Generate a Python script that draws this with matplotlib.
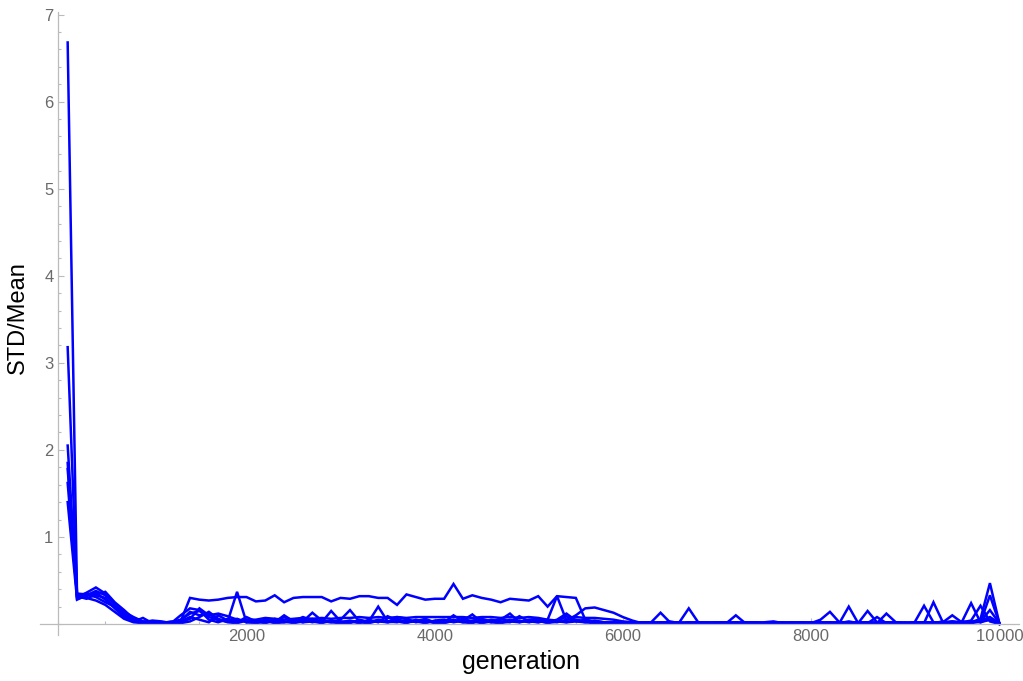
import numpy as np
import matplotlib.pyplot as plt
from matplotlib.ticker import MultipleLocator, FixedLocator, FixedFormatter

plt.rcParams['font.family'] = ['Liberation Sans', 'DejaVu Sans']

# generations sampled every 100
generation = np.arange(100, 10001, 100)

# STD/Mean for each run, 10 values per row (1000 generations per row)
run_a = [6.68, 0.30, 0.36, 0.42, 0.35, 0.24, 0.12, 0.05, 0.02, 0.01,
         0.02, 0.01, 0.03, 0.30, 0.28, 0.27, 0.28, 0.30, 0.31, 0.31,
         0.26, 0.27, 0.33, 0.25, 0.30, 0.31, 0.31, 0.31, 0.26, 0.30,
         0.29, 0.32, 0.32, 0.30, 0.30, 0.22, 0.34, 0.31, 0.28, 0.29,
         0.29, 0.46, 0.29, 0.33, 0.30, 0.28, 0.25, 0.29, 0.28, 0.27,
         0.32, 0.20, 0.32, 0.31, 0.30, 0.05, 0.02, 0.01, 0.02, 0.01,
         0.01, 0.02, 0.01, 0.01, 0.02, 0.01, 0.02, 0.01, 0.01, 0.02,
         0.01, 0.02, 0.01, 0.01, 0.02, 0.03, 0.01, 0.02, 0.01, 0.01,
         0.02, 0.01, 0.02, 0.01, 0.02, 0.01, 0.02, 0.01, 0.02, 0.01,
         0.01, 0.02, 0.01, 0.03, 0.01, 0.02, 0.04, 0.21, 0.03, 0.00]
run_b = [3.18, 0.33, 0.35, 0.33, 0.30, 0.20, 0.10, 0.04, 0.03, 0.02,
         0.01, 0.02, 0.05, 0.12, 0.15, 0.08, 0.05, 0.03, 0.37, 0.02,
         0.02, 0.05, 0.03, 0.08, 0.04, 0.02, 0.06, 0.03, 0.02, 0.05,
         0.16, 0.03, 0.02, 0.05, 0.03, 0.06, 0.02, 0.04, 0.03, 0.02,
         0.03, 0.05, 0.02, 0.04, 0.06, 0.03, 0.02, 0.05, 0.03, 0.04,
         0.02, 0.04, 0.03, 0.09, 0.03, 0.02, 0.04, 0.02, 0.01, 0.02,
         0.02, 0.01, 0.02, 0.13, 0.02, 0.01, 0.01, 0.02, 0.01, 0.01,
         0.01, 0.01, 0.02, 0.01, 0.01, 0.02, 0.01, 0.01, 0.02, 0.01,
         0.05, 0.14, 0.02, 0.01, 0.02, 0.01, 0.01, 0.02, 0.01, 0.01,
         0.01, 0.02, 0.01, 0.02, 0.03, 0.01, 0.02, 0.06, 0.47, 0.01]
run_c = [2.05, 0.29, 0.32, 0.36, 0.28, 0.18, 0.08, 0.03, 0.02, 0.04,
         0.03, 0.01, 0.10, 0.18, 0.16, 0.05, 0.02, 0.06, 0.03, 0.05,
         0.05, 0.07, 0.06, 0.05, 0.06, 0.07, 0.06, 0.07, 0.06, 0.07,
         0.07, 0.08, 0.07, 0.08, 0.07, 0.08, 0.07, 0.08, 0.08, 0.08,
         0.08, 0.08, 0.08, 0.07, 0.08, 0.08, 0.07, 0.08, 0.07, 0.08,
         0.07, 0.05, 0.32, 0.04, 0.10, 0.18, 0.19, 0.16, 0.13, 0.08,
         0.04, 0.01, 0.02, 0.01, 0.01, 0.02, 0.01, 0.02, 0.01, 0.02,
         0.01, 0.02, 0.01, 0.02, 0.01, 0.01, 0.02, 0.01, 0.01, 0.02,
         0.01, 0.02, 0.01, 0.03, 0.01, 0.02, 0.01, 0.01, 0.02, 0.01,
         0.02, 0.21, 0.02, 0.01, 0.02, 0.01, 0.02, 0.03, 0.16, 0.01]
run_d = [1.85, 0.31, 0.30, 0.27, 0.22, 0.14, 0.06, 0.02, 0.01, 0.03,
         0.01, 0.02, 0.04, 0.14, 0.10, 0.12, 0.04, 0.03, 0.02, 0.08,
         0.03, 0.01, 0.04, 0.02, 0.03, 0.08, 0.04, 0.02, 0.15, 0.03,
         0.02, 0.04, 0.03, 0.20, 0.03, 0.02, 0.05, 0.03, 0.06, 0.02,
         0.02, 0.10, 0.03, 0.02, 0.04, 0.02, 0.06, 0.03, 0.02, 0.05,
         0.06, 0.03, 0.02, 0.05, 0.08, 0.07, 0.07, 0.06, 0.05, 0.03,
         0.02, 0.01, 0.01, 0.02, 0.01, 0.02, 0.18, 0.02, 0.01, 0.01,
         0.02, 0.01, 0.01, 0.02, 0.01, 0.02, 0.01, 0.02, 0.01, 0.01,
         0.01, 0.01, 0.02, 0.01, 0.01, 0.15, 0.02, 0.01, 0.01, 0.02,
         0.01, 0.01, 0.02, 0.01, 0.03, 0.02, 0.24, 0.02, 0.05, 0.00]
run_e = [1.78, 0.35, 0.34, 0.31, 0.25, 0.20, 0.14, 0.08, 0.03, 0.02,
         0.02, 0.01, 0.02, 0.06, 0.18, 0.10, 0.12, 0.09, 0.05, 0.03,
         0.01, 0.03, 0.02, 0.10, 0.03, 0.05, 0.02, 0.04, 0.03, 0.02,
         0.03, 0.01, 0.05, 0.02, 0.09, 0.04, 0.02, 0.03, 0.01, 0.04,
         0.05, 0.02, 0.04, 0.11, 0.02, 0.05, 0.03, 0.02, 0.09, 0.03,
         0.02, 0.05, 0.04, 0.02, 0.03, 0.05, 0.03, 0.02, 0.01, 0.01,
         0.01, 0.02, 0.01, 0.02, 0.02, 0.01, 0.02, 0.01, 0.02, 0.01,
         0.01, 0.10, 0.01, 0.02, 0.01, 0.01, 0.02, 0.01, 0.02, 0.01,
         0.02, 0.01, 0.01, 0.02, 0.01, 0.02, 0.01, 0.12, 0.02, 0.01,
         0.02, 0.01, 0.25, 0.02, 0.01, 0.03, 0.02, 0.04, 0.08, 0.01]
run_f = [1.40, 0.28, 0.33, 0.38, 0.33, 0.23, 0.09, 0.03, 0.07, 0.01,
         0.01, 0.03, 0.01, 0.03, 0.08, 0.14, 0.06, 0.02, 0.01, 0.04,
         0.04, 0.02, 0.06, 0.03, 0.01, 0.03, 0.13, 0.04, 0.02, 0.01,
         0.01, 0.05, 0.02, 0.03, 0.02, 0.08, 0.06, 0.02, 0.04, 0.01,
         0.02, 0.03, 0.06, 0.03, 0.01, 0.03, 0.05, 0.12, 0.02, 0.04,
         0.03, 0.02, 0.05, 0.12, 0.04, 0.02, 0.01, 0.02, 0.01, 0.02,
         0.01, 0.01, 0.02, 0.01, 0.03, 0.01, 0.01, 0.02, 0.01, 0.02,
         0.02, 0.01, 0.01, 0.02, 0.01, 0.02, 0.01, 0.01, 0.02, 0.01,
         0.01, 0.02, 0.01, 0.20, 0.01, 0.02, 0.01, 0.02, 0.01, 0.01,
         0.02, 0.01, 0.02, 0.01, 0.02, 0.01, 0.03, 0.02, 0.33, 0.01]
run_g = [1.62, 0.32, 0.29, 0.34, 0.37, 0.25, 0.16, 0.06, 0.02, 0.01,
         0.02, 0.01, 0.03, 0.08, 0.05, 0.02, 0.10, 0.04, 0.06, 0.02,
         0.02, 0.04, 0.01, 0.02, 0.05, 0.02, 0.03, 0.01, 0.04, 0.02,
         0.04, 0.02, 0.01, 0.04, 0.02, 0.03, 0.01, 0.05, 0.02, 0.03,
         0.01, 0.04, 0.02, 0.01, 0.05, 0.02, 0.01, 0.03, 0.04, 0.02,
         0.04, 0.01, 0.03, 0.02, 0.05, 0.03, 0.02, 0.01, 0.02, 0.01,
         0.01, 0.02, 0.01, 0.01, 0.02, 0.01, 0.01, 0.01, 0.02, 0.01,
         0.02, 0.01, 0.02, 0.01, 0.01, 0.02, 0.01, 0.02, 0.01, 0.02,
         0.01, 0.02, 0.01, 0.01, 0.02, 0.01, 0.08, 0.01, 0.02, 0.01,
         0.01, 0.02, 0.01, 0.02, 0.10, 0.02, 0.01, 0.03, 0.05, 0.00]
runs = [run_a, run_b, run_c, run_d, run_e, run_f, run_g]

x_ticks = [2000, 4000, 6000, 8000, 10000]
x_labels = ['2000', '4000', '6000', '8000', '10\u200a000']
y_ticks = [1, 2, 3, 4, 5, 6, 7]

fig = plt.figure(figsize=(10.23, 6.81), dpi=100)
ax = fig.add_axes([40/1023, 46/681, 979/1023, 623/681])

for r in runs:
    ax.plot(generation, r, color='#0000ff', lw=1.8, solid_joinstyle='miter')

ax.set_xlim(-194, 10209)
ax.set_ylim(-0.126, 7.03)

# Mathematica style axes crossing at origin
ax.spines['left'].set_position(('data', 0))
ax.spines['bottom'].set_position(('data', 0))
ax.spines['top'].set_visible(False)
ax.spines['right'].set_visible(False)
for s in ['left', 'bottom']:
    ax.spines[s].set_color('#bbbbbb')
    ax.spines[s].set_linewidth(0.9)

ax.xaxis.set_major_locator(FixedLocator(x_ticks))
ax.xaxis.set_major_formatter(FixedFormatter(x_labels))
ax.xaxis.set_minor_locator(MultipleLocator(500))
ax.yaxis.set_major_locator(FixedLocator(y_ticks))
ax.yaxis.set_minor_locator(MultipleLocator(0.2))
ax.tick_params(which='both', direction='in', color='#bbbbbb', width=0.8,
               labelcolor='#6a6a6a', labelsize=12)
ax.tick_params(which='major', length=4)
ax.tick_params(which='minor', length=2.5)

fig.text(521/1023, 1 - 662/681, 'generation', fontsize=18, ha='center', va='center')
fig.text(18/1023, 1 - 318/681, 'STD/Mean', fontsize=17, rotation=90,
         ha='center', va='center')

plt.savefig('out.png')
plt.close()
